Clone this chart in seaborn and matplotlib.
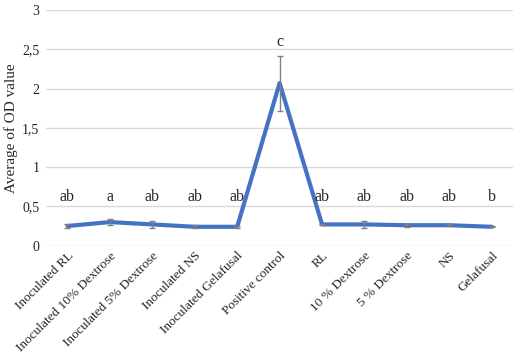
import numpy as np
import pandas as pd
import matplotlib
matplotlib.use('Agg')
import matplotlib.pyplot as plt
import seaborn as sns
from matplotlib.ticker import FuncFormatter

groups = ['Inoculated RL', 'Inoculated 10% Dextrose', 'Inoculated 5% Dextrose',
          'Inoculated NS', 'Inoculated Gelafusal', 'Positive control', 'RL',
          '10 % Dextrose', '5 % Dextrose', 'NS', 'Gelafusal']
od_mean = [0.25, 0.30, 0.27, 0.24, 0.24, 2.07, 0.27, 0.27, 0.26, 0.26, 0.24]
od_err = [0.02, 0.04, 0.04, 0.02, 0.01, 0.35, 0.01, 0.05, 0.02, 0.01, 0.005]
letters = ['ab', 'a', 'ab', 'ab', 'ab', 'c', 'ab', 'ab', 'ab', 'ab', 'b']

d = pd.DataFrame({'pos': np.arange(len(groups)), 'od': od_mean, 'err': od_err})

sns.set_style('white')
plt.rcParams['font.family'] = ['Liberation Serif', 'DejaVu Serif']

fig, ax = plt.subplots(figsize=(5.14, 3.56), dpi=100)
fig.subplots_adjust(left=0.09, right=0.998, top=0.972, bottom=0.31)

ax.errorbar(d['pos'], d['od'], yerr=d['err'], fmt='none', ecolor='#7f7f7f',
            elinewidth=1, capsize=2.5, capthick=1, zorder=3)
sns.lineplot(data=d, x='pos', y='od', color='#4472C4', linewidth=3, ax=ax, zorder=2)

for i, (m, e, t) in enumerate(zip(od_mean, od_err, letters)):
    y = m + e + 0.17 if i == 5 else 0.62
    ax.text(i, y, t, ha='center', va='center', fontsize=11.5)

ax.set_ylim(0, 3)
ax.set_xlim(-0.5, len(groups) - 0.5)
ax.set_yticks(np.arange(0, 3.01, 0.5))
ax.yaxis.set_major_formatter(FuncFormatter(lambda v, p: ('%g' % v).replace('.', ',')))
ax.grid(axis='y', color='#d9d9d9', linewidth=1)
ax.set_axisbelow(True)
for s in ax.spines.values():
    s.set_visible(False)

ax.set_xticks(d['pos'])
ax.set_xticklabels(groups, rotation=45, ha='right', rotation_mode='anchor', fontsize=9.5)
ax.tick_params(axis='y', labelsize=10, length=0, pad=5)
ax.tick_params(axis='x', length=0, pad=3)
ax.set_xlabel('')
ax.set_ylabel('Average of OD value', fontsize=11, labelpad=3)

fig.savefig('out.png', dpi=100)
